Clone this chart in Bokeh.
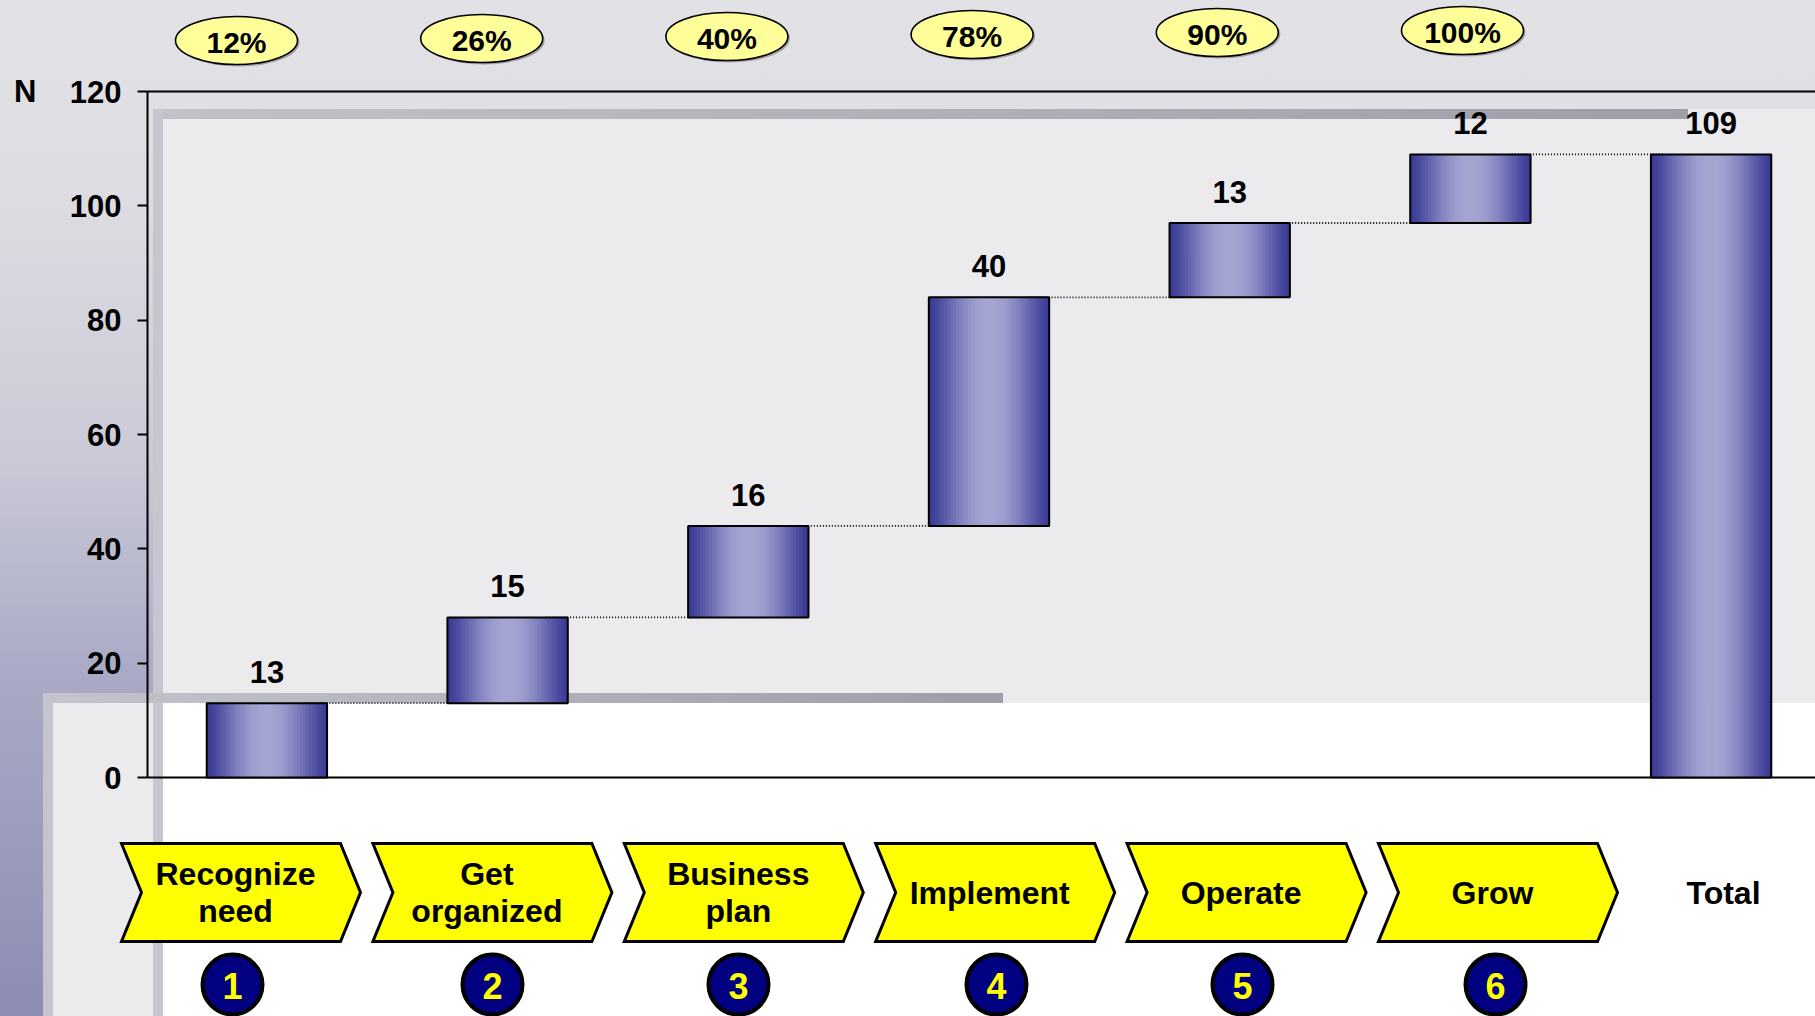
import numpy as np
from bokeh.plotting import figure
from bokeh.models import FixedTicker, LinearAxis, Range1d
from bokeh.core.properties import value
from bokeh.embed import file_html
from bokeh.resources import INLINE

# ---------------- data ----------------
steps = ["Recognize\nneed", "Get\norganized", "Business\nplan", "Implement", "Operate", "Grow"]
step_numbers = ["1", "2", "3", "4", "5", "6"]
increments = [13, 15, 16, 40, 13, 12]
total_label = "Total"
total_value = 109
cumulative_share = ["12%", "26%", "40%", "78%", "90%", "100%"]
y_ticks = [0, 20, 40, 60, 80, 100, 120]
y_unit = "N"

# ---------------- layout (page pixels) ----------------
W, H = 1815, 1016
AXIS_X = 147
BAR0_X = 266.4
BAR_STEP = 240.7
Y0_PAGE = 777
YTOP_PAGE = 91
PX_PER_UNIT = (Y0_PAGE - YTOP_PAGE) / 120.0


def xd(page_x):
    return (page_x - BAR0_X) / BAR_STEP


def yd(page_y):
    return (Y0_PAGE - page_y) / PX_PER_UNIT


FONT_NAME = "Liberation Sans"
FONT = value(FONT_NAME)

# ---------------- derived bar geometry ----------------
n_steps = len(increments)
tops_steps = list(np.cumsum(increments))
bottoms = [0] + tops_steps[:-1] + [0]
tops = tops_steps + [total_value]
xs = list(range(n_steps + 1))
labels = [str(v) for v in increments] + [str(total_value)]

# ---------------- background (CSS layers, figure coordinates) ----------------
def layer(img, x, y, w, h):
    return f"{img} {x}px {y}px / {w}px {h}px no-repeat"


def solid(c):
    return f"linear-gradient({c}, {c})"


layers = [
    layer("linear-gradient(to right, #c4c4cc, #9e9ea8)", 43, 693, 960, 10),   # frame B top bevel
    layer(solid("#c4c4cc"), 43, 693, 10, 400),                                # frame B left bevel
    layer(solid("#c6c6ce"), 153, 109, 10, 1000),                              # frame A left bevel
    layer(solid("#ffffff"), 163, 703, 2000, 400),                             # white area
    layer(solid("#ebebee"), 53, 703, 2000, 400),                              # frame B fill
    layer("linear-gradient(to right, #c2c2cb, #9e9ea8)", 153, 109, 1535, 10), # frame A top bevel
    layer(solid("#ebebee"), 153, 109, 2000, 1000),                            # frame A fill
    "linear-gradient(to bottom, #e2e2e6 0%, #dcdce2 20%, #cbcbd8 44%, #aaaac6 66%, #8c8cb4 100%)",
]
bg_css = ", ".join(layers)

p = figure(
    width=W, height=H,
    x_range=Range1d(xd(0), xd(W)),
    y_range=Range1d(yd(H), yd(0)),
    output_backend="svg", toolbar_location=None, title=None,
    x_axis_location=None, y_axis_location="left",
    min_border_left=0, min_border_right=0, min_border_top=0, min_border_bottom=0,
    border_fill_color=None, background_fill_color=None, outline_line_color=None,
    styles={"background": bg_css},
)
p.grid.grid_line_color = None

# ---------------- y axis ----------------
yax = p.yaxis[0]
yax.fixed_location = xd(AXIS_X)
yax.ticker = FixedTicker(ticks=y_ticks)
yax.bounds = (0, 120)
yax.axis_line_color = "black"
yax.axis_line_width = 2
yax.major_tick_line_color = "black"
yax.major_tick_line_width = 2
yax.major_tick_out = 10
yax.major_tick_in = 0
yax.minor_tick_line_color = None
yax.major_label_standoff = 16
yax.major_label_text_font = FONT_NAME
yax.major_label_text_font_style = "bold"
yax.major_label_text_font_size = "31px"
yax.major_label_text_color = "black"

nax = LinearAxis(
    fixed_location=xd(36),
    ticker=FixedTicker(ticks=[120]),
    major_label_overrides={120: y_unit},
    axis_line_color=None, major_tick_line_color=None, minor_tick_line_color=None,
    major_tick_out=0, major_tick_in=0, major_label_standoff=0,
    major_label_text_font=FONT_NAME, major_label_text_font_style="bold",
    major_label_text_font_size="31px", major_label_text_color="black",
)
p.add_layout(nax, "left")

# baseline (0) and top line (120), starting at the y axis
p.segment(x0=[xd(AXIS_X)] * 2, y0=[0, 120], x1=[xd(W)] * 2, y1=[0, 120],
          line_color="black", line_width=2)

# ---------------- connectors ----------------
p.segment(
    x0=[i + 0.16 for i in range(n_steps)], y0=tops_steps,
    x1=[i + 0.80 for i in range(n_steps)], y1=tops_steps,
    line_color="#000000", line_width=1.8, line_dash="1 2",
)

# ---------------- bars with horizontal shading ----------------
BAR_W = 0.5
N_STRIPS = 40
dark = np.array([58, 58, 150])
light = np.array([166, 166, 212])
sl, sr, sb, st, sc = [], [], [], [], []
for x, b, t in zip(xs, bottoms, tops):
    for k in range(N_STRIPS):
        t0, t1 = k / N_STRIPS, (k + 1) / N_STRIPS
        f = np.sin(np.pi * (t0 + t1) / 2) ** 1.3
        c = (dark + (light - dark) * f).astype(int)
        sl.append(x - BAR_W / 2 + t0 * BAR_W)
        sr.append(min(x - BAR_W / 2 + t1 * BAR_W + 0.003, x + BAR_W / 2))
        sb.append(b)
        st.append(t)
        sc.append("#%02x%02x%02x" % tuple(c))
p.quad(left=sl, right=sr, bottom=sb, top=st, fill_color=sc, line_color=None)
p.quad(left=[x - BAR_W / 2 for x in xs], right=[x + BAR_W / 2 for x in xs],
       bottom=bottoms, top=tops, fill_color=None, line_color="black", line_width=2)

p.text(x=xs, y=tops, text=labels, text_font=FONT, text_font_style="bold",
       text_font_size="31px", text_align="center", text_baseline="alphabetic",
       y_offset=-31, text_color="black")

# ---------------- cumulative share ellipses ----------------
ell_x = [xd(236 + 245.2 * i) for i in range(n_steps)]
ell_y = [yd(40 - 2.0 * i) for i in range(n_steps)]
ell_y_sh = [yd(42 - 2.0 * i) for i in range(n_steps)]
p.ellipse(x=[xd(238 + 245.2 * i) for i in range(n_steps)], y=ell_y_sh, width=122, height=48,
          width_units="screen", height_units="screen",
          fill_color="#555555", fill_alpha=0.45, line_color=None)
p.ellipse(x=ell_x, y=ell_y, width=122, height=48, width_units="screen", height_units="screen",
          fill_color="#ffff99", line_color="black", line_width=1.6)
p.text(x=ell_x, y=ell_y, text=cumulative_share, text_font=FONT, text_font_style="bold",
       text_font_size="30px", text_align="center", text_baseline="middle", y_offset=2,
       text_color="black")

# ---------------- step chevrons ----------------
CH_L0, CH_STEP, CH_W, CH_TIP, CH_NOTCH = 121, 251.4, 239, 20, 20
CH_T, CH_M, CH_B = 843, 892, 941
chev_xs, chev_ys = [], []
for i in range(n_steps):
    L = CH_L0 + CH_STEP * i
    px = [L, L + CH_W - CH_TIP, L + CH_W, L + CH_W - CH_TIP, L, L + CH_NOTCH]
    py = [CH_T, CH_T, CH_M, CH_B, CH_B, CH_M]
    chev_xs.append([xd(v) for v in px])
    chev_ys.append([yd(v) for v in py])
p.patches(chev_xs, chev_ys, fill_color="#ffff00", line_color="black", line_width=3,
          line_join="miter")
chev_cx = [xd(CH_L0 + CH_STEP * i + 114) for i in range(n_steps)]
p.text(x=chev_cx, y=[yd(CH_M)] * n_steps, text=steps, text_font=FONT, text_font_style="bold",
       text_font_size="32px", text_align="center", text_baseline="middle",
       text_line_height=1.04, text_color="black")
p.text(x=[xd(1723)], y=[yd(CH_M)], text=[total_label], text_font=FONT, text_font_style="bold",
       text_font_size="32px", text_align="center", text_baseline="middle", text_color="black")

# ---------------- numbered circles ----------------
circ_px = [232, 492, 738, 996, 1242, 1495]
circ_x = [xd(v) for v in circ_px]
circ_y = [yd(984)] * n_steps
p.scatter(x=circ_x, y=circ_y, marker="circle", size=60, fill_color="#000080",
          line_color="black", line_width=4)
p.text(x=circ_x, y=circ_y, text=step_numbers, text_font=FONT, text_font_style="bold",
       text_font_size="36px", text_align="center", text_baseline="middle", y_offset=1,
       text_color="#ffff00")

open("out.html", "w").write(file_html(p, INLINE))
